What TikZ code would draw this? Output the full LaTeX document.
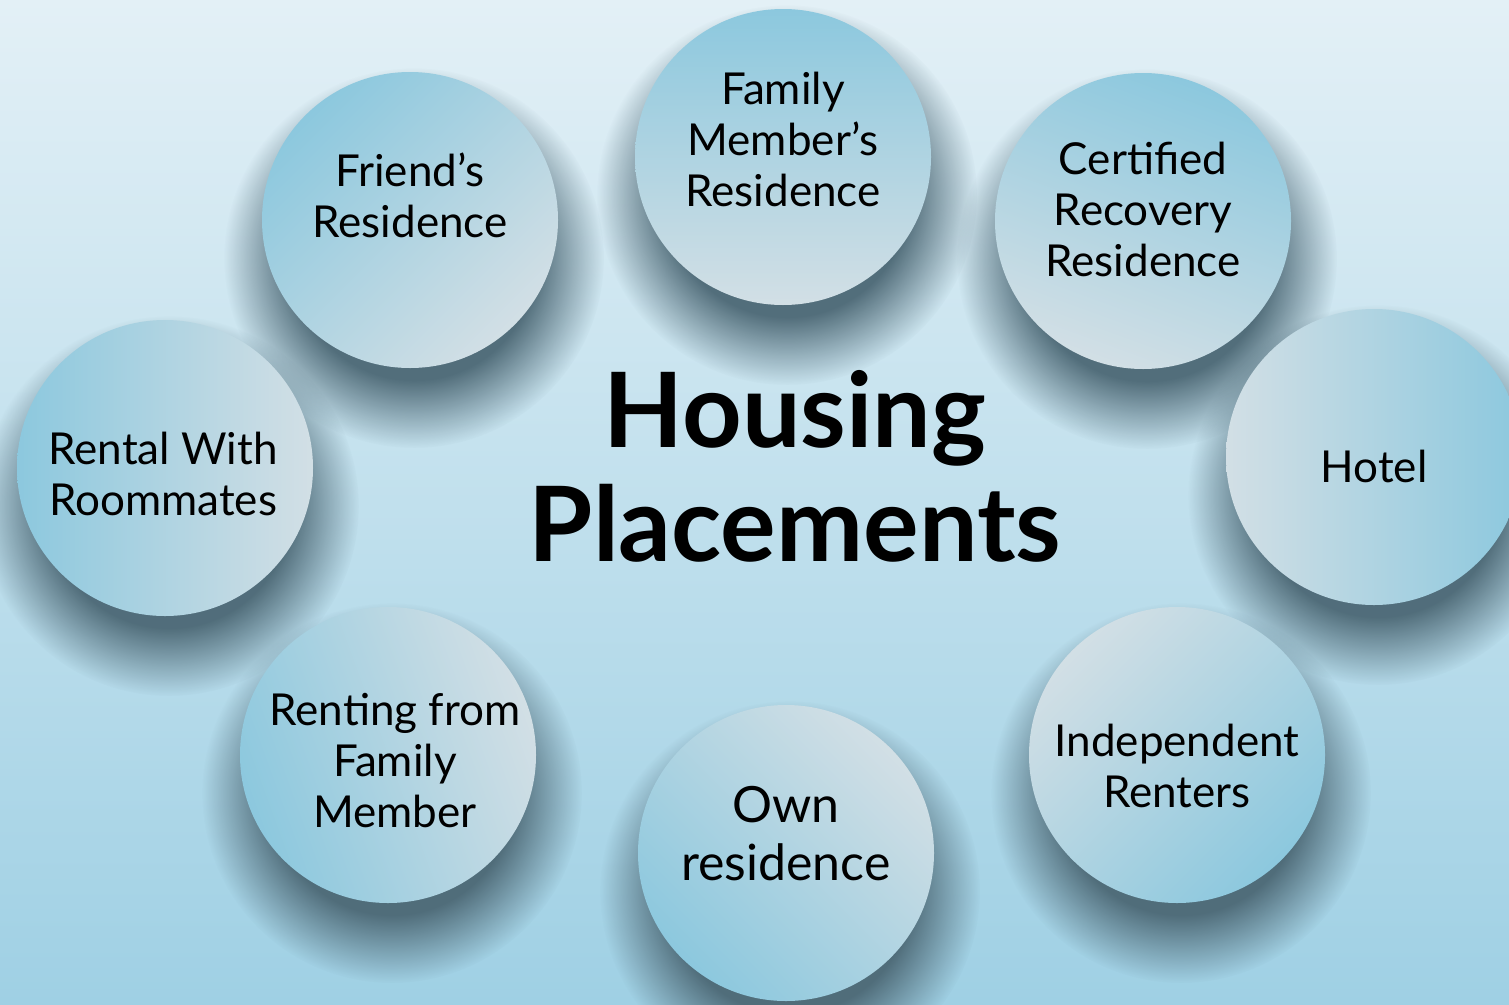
\documentclass[tikz,border=0pt]{standalone}
\usepackage{fontspec}
\setmainfont{Lato}
\usetikzlibrary{fadings}
\pgfdeclareradialshading{softdiscshade}{\pgfpointorigin}{color(0bp)=(pgftransparent!0); color(16bp)=(pgftransparent!0); color(25bp)=(pgftransparent!100); color(50bp)=(pgftransparent!100)}
\pgfdeclarefading{softdisc}{\pgfuseshading{softdiscshade}}
\definecolor{bgtop}{HTML}{E3F0F6}
\definecolor{bgbot}{HTML}{9FD0E4}
\definecolor{ballblue}{HTML}{8CC8DE}
\definecolor{ballgray}{HTML}{D2DFE5}
\definecolor{shadowc}{HTML}{4C6875}
\begin{document}
\begin{tikzpicture}[x=1pt,y=-1pt,
  ball/.style={circle,minimum size=296pt,inner sep=0pt,top color=ballblue,bottom color=ballgray,shading angle=#1},
  ballshadow/.style={fill=shadowc,opacity=0.95,path fading=softdisc},
  itemtext/.style={inner sep=0pt,align=center,font=\fontsize{44}{51}\selectfont,text=black},
  titletext/.style={inner sep=0pt,align=center,font=\fontsize{104}{114}\selectfont\bfseries,text=black}]
\useasboundingbox (0,0) rectangle (1509,1004);
\clip (0,0) rectangle (1509,1004);
\shade[top color=bgtop,bottom color=bgbot] (0,0) rectangle (1509,1004);
% shadows
\foreach \x/\y in {410/220,783/157,1143/221,1374/457,165/468,388/755,786/853,1177/755}{
  \fill[ballshadow] (\x+4,\y+38) circle (190);
}
% balls
\node[ball=45]  (c1) at (410,220) {};
\node[ball=0]   (c2) at (783,157) {};
\node[ball=-20] (c3) at (1143,221) {};
\node[ball=-90] (c4) at (1374,457) {};
\node[ball=-135](c5) at (1177,755) {};
\node[ball=135] (c6) at (786,853) {};
\node[ball=110] (c7) at (388,755) {};
\node[ball=90]  (c8) at (165,468) {};
% texts
\node[itemtext] (t1) at (410,195) {Friend’s\\Residence};
\node[itemtext] (t2) at (783,139) {Family\\Member’s\\Residence};
\node[itemtext] (t3) at (1143,209) {Certified\\Recovery\\Residence};
\node[itemtext] (t4) at (1374,466) {Hotel};
\node[itemtext] (t5) at (1177,766) {Independent\\Renters};
\node[itemtext,font=\fontsize{50}{58}\selectfont] (t6) at (786,834) {Own\\residence};
\node[itemtext] (t7) at (395,761) {Renting from\\Family\\Member};
\node[itemtext] (t8) at (163,474) {Rental With\\Roommates};
\node[titletext] (title) at (795,466) {Housing\\Placements};
\end{tikzpicture}
\end{document}
